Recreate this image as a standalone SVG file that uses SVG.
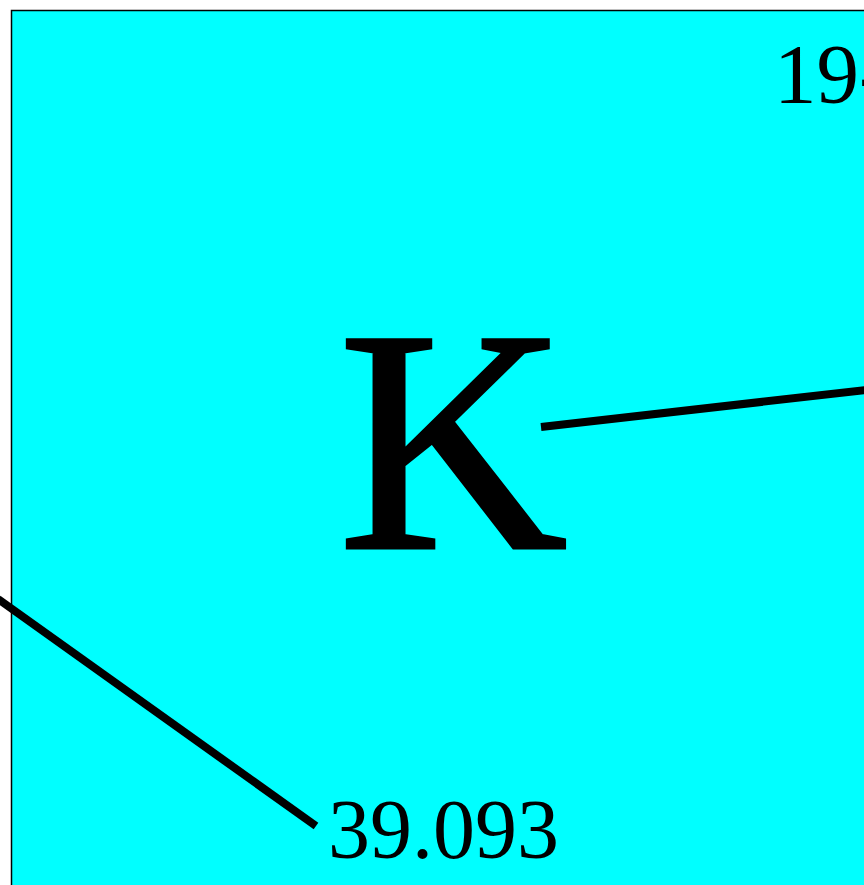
<svg xmlns="http://www.w3.org/2000/svg" width="864" height="885" viewBox="0 0 864 885">
<style>
.t{font-family:"Liberation Serif","Times New Roman",serif;fill:#000}
.c{stroke:#000;stroke-width:8;fill:none}
</style>
<rect width="864" height="885" fill="#fff"/>
<g id="cell">
<rect x="11.5" y="10.5" width="900" height="900" fill="#00ffff" stroke="#000" stroke-width="1.5"/>
</g>
<g id="symbol"><text class="t" x="453" y="548" font-size="318" stroke="#000" stroke-width="3" text-anchor="middle">K</text></g>
<g id="number"><text class="t" x="774" y="103" font-size="85">19-</text></g>
<g id="mass"><text class="t" x="328" y="858" font-size="84">39.093</text></g>
<g id="connectors">
<line class="c" x1="541" y1="427" x2="866" y2="390"/>
<line class="c" x1="-2" y1="599" x2="316" y2="826"/>
</g>
</svg>
